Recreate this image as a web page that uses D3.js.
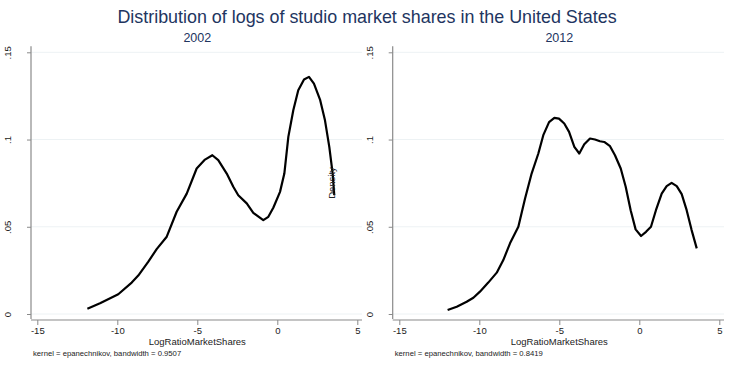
<!DOCTYPE html>
<html>
<head>
<meta charset="utf-8">
<script src="https://cdn.jsdelivr.net/npm/d3@7"></script>
<style>
  body { margin: 0; background: #fff; }
  svg { display: block; font-family: "Liberation Sans", Arial, sans-serif; }
</style>
</head>
<body>
<svg id="chart" width="735" height="367"></svg>
<script>
// kernel density estimates
const x2002 = [-11.87, -11.08, -9.94, -9.1, -8.69, -8.06, -7.54, -6.91, -6.29, -5.66, -5.04, -4.52, -4.06, -3.69, -3.16, -2.75, -2.44, -1.91, -1.5, -0.875, -0.56, -0.25, 0.17, 0.44, 0.69, 1.0, 1.31, 1.67, 1.98, 2.29, 2.67, 2.98, 3.25, 3.46, 3.56]
const y2002 = [0.003, 0.0061, 0.0113, 0.018, 0.022, 0.030, 0.0372, 0.0443, 0.0586, 0.069, 0.0834, 0.0885, 0.091, 0.0882, 0.0805, 0.0729, 0.0681, 0.0634, 0.058, 0.0538, 0.0557, 0.0609, 0.070, 0.0805, 0.1015, 0.1168, 0.1282, 0.1344, 0.1359, 0.132, 0.1229, 0.111, 0.0958, 0.0805, 0.0681]

const x2012 = [-11.98, -11.41, -10.79, -10.37, -9.96, -9.44, -8.91, -8.5, -8.08, -7.56, -7.14, -6.73, -6.31, -6.0, -5.64, -5.31, -5.02, -4.69, -4.39, -4.06, -3.75, -3.44, -3.08, -2.77, -2.46, -2.19, -1.83, -1.52, -1.16, -0.85, -0.54, -0.23, 0.11, 0.42, 0.73, 1.04, 1.4, 1.71, 2.02, 2.34, 2.65, 2.96, 3.27, 3.59]
const y2012 = [0.0023, 0.0042, 0.007, 0.0093, 0.0128, 0.018, 0.0237, 0.0309, 0.0405, 0.050, 0.0662, 0.0805, 0.092, 0.1025, 0.110, 0.1124, 0.112, 0.1092, 0.1044, 0.0958, 0.092, 0.0973, 0.1006, 0.100, 0.099, 0.0986, 0.0962, 0.091, 0.0834, 0.0729, 0.0595, 0.0485, 0.0447, 0.0471, 0.050, 0.0595, 0.069, 0.0733, 0.0752, 0.0733, 0.0687, 0.0595, 0.0481, 0.0376]

const xTicks = [-15, -10, -5, 0, 5]
const yTicks = [0, 0.05, 0.1, 0.15]
const yTickLabels = ["0", ".05", ".1", ".15"]

const years = ["2002", "2012"]
const bandwidths = ["0.9507", "0.8419"]
const title = "Distribution of logs of studio market shares in the United States"
const xTitle = "LogRatioMarketShares"
const yTitle = "Density"

const navy = "#22355f"
const axisGrey = "#8a8a8a"
const gridColor = "#edf2f4"

const svg = d3.select("#chart")

svg.append("text")
   .attr("x", 367)
   .attr("y", 23)
   .attr("text-anchor", "middle")
   .attr("font-size", 17.9)
   .attr("fill", navy)
   .text(title)

const y = d3.scaleLinear()
            .domain([0, 0.15])
            .range([314, 52.3])

// left edge of each panel's axis and the x position of -15
const panels = [
  {year: years[0], bw: bandwidths[0], xs: x2002, ys: y2002, axisX: 31, x0: 37.3, right: 362},
  {year: years[1], bw: bandwidths[1], xs: x2012, ys: y2012, axisX: 392.7, x0: 399.3, right: 724}
]

panels.forEach(function(p, i) {
  const x = d3.scaleLinear()
              .domain([-15, 5])
              .range([p.x0, p.x0 + 320])

  const g = svg.append("g")

  // gridlines
  g.selectAll(".grid")
   .data(yTicks)
   .enter()
   .append("line")
   .attr("x1", p.axisX)
   .attr("x2", p.right)
   .attr("y1", d => y(d))
   .attr("y2", d => y(d))
   .attr("stroke", gridColor)
   .attr("stroke-width", 1)

  // y axis
  const axeY = d3.axisLeft(y)
                 .tickValues(yTicks)
                 .tickFormat((d, j) => yTickLabels[j])
                 .tickSize(4)
                 .tickPadding(0)
  const gy = g.append("g")
              .attr("transform", `translate(${p.axisX},0)`)
              .call(axeY)
  gy.select(".domain").remove()
  gy.selectAll(".tick line").attr("stroke", axisGrey)
  gy.selectAll(".tick text")
    .attr("transform", "rotate(-90)")
    .attr("x", 0)
    .attr("y", -23)
    .attr("dy", "0.35em")
    .attr("text-anchor", "middle")
    .attr("font-size", 9.5)
    .attr("font-family", "Liberation Sans, Arial, sans-serif")
    .attr("fill", "#222")
  gy.append("line")
    .attr("x1", 0).attr("x2", 0)
    .attr("y1", y(0.15) - 6).attr("y2", y(0) + 5)
    .attr("stroke", axisGrey)
    .attr("stroke-width", 1.2)

  // x axis
  const axeX = d3.axisBottom(x)
                 .tickValues(xTicks)
                 .tickFormat(d => String(d))
                 .tickSize(5)
                 .tickPadding(2)
  const gx = g.append("g")
              .attr("transform", "translate(0,320)")
              .call(axeX)
  gx.select(".domain").remove()
  gx.selectAll(".tick line").attr("stroke", axisGrey)
  gx.selectAll(".tick text")
    .attr("font-size", 9.5)
    .attr("font-family", "Liberation Sans, Arial, sans-serif")
    .attr("fill", "#222")
  gx.append("line")
    .attr("x1", p.axisX).attr("x2", p.right)
    .attr("y1", 0).attr("y2", 0)
    .attr("stroke", axisGrey)
    .attr("stroke-width", 1.2)

  // subtitle
  g.append("text")
   .attr("x", x(-5))
   .attr("y", 42)
   .attr("text-anchor", "middle")
   .attr("font-size", 12.5)
   .attr("fill", navy)
   .text(p.year)

  // axis title
  g.append("text")
   .attr("x", x(-5))
   .attr("y", 345)
   .attr("text-anchor", "middle")
   .attr("font-size", 9.5)
   .attr("fill", "#222")
   .text(xTitle)

  // note
  g.append("text")
   .attr("x", p.axisX + 2)
   .attr("y", 355.5)
   .attr("font-size", 7.7)
   .attr("fill", "#222")
   .text("kernel = epanechnikov, bandwidth = " + p.bw)

  // density curve
  const pts = p.xs.map((v, j) => [v, p.ys[j]])
  const line = d3.line()
                 .x(d => x(d[0]))
                 .y(d => y(d[1]))
  g.append("path")
   .datum(pts)
   .attr("d", line)
   .attr("fill", "none")
   .attr("stroke", "#000")
   .attr("stroke-width", 2.2)
   .attr("stroke-linejoin", "round")
})

// stray y axis title, drawn where the original left it
svg.append("text")
   .attr("transform", "translate(334.5,183) rotate(-90)")
   .attr("text-anchor", "middle")
   .attr("font-size", 9.5)
   .attr("fill", "#222")
   .text(yTitle)
</script>
</body>
</html>
